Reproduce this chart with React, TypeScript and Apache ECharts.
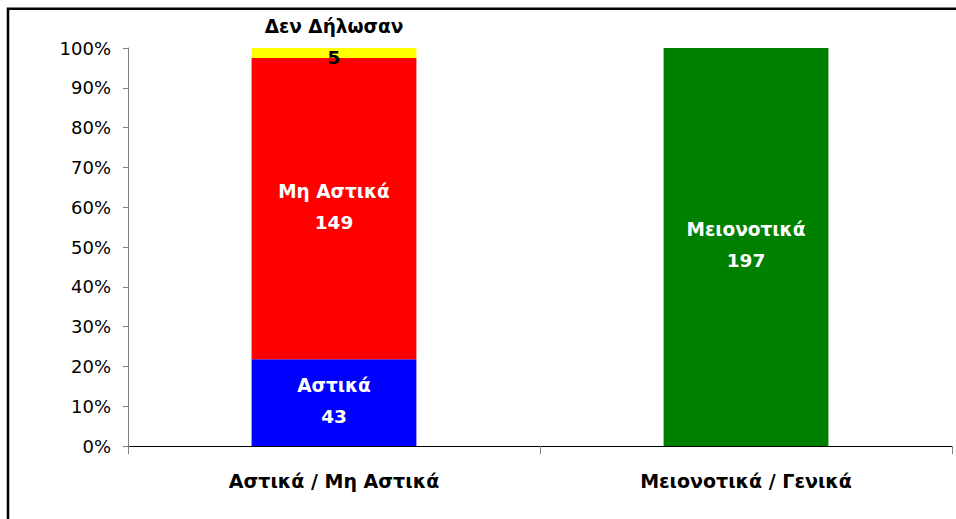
import React, { useEffect, useRef } from "react";
import * as echarts from "echarts";

const categories = ["Αστικά / Μη Αστικά", "Μειονοτικά / Γενικά"];
const yTickLabels = ["0%", "10%", "20%", "30%", "40%", "50%", "60%", "70%", "80%", "90%", "100%"];

const seriesNames = ["Αστικά", "Μη Αστικά", "Δεν Δήλωσαν", "Μειονοτικά"];
const astika = [43, 0];
const miAstika = [149, 0];
const denDilosan = [5, 0];
const meionotika = [0, 197];
const seriesColors = ["#0000FF", "#FF0000", "#FFFF00", "#008000"];
const labelColors = ["#FFFFFF", "#FFFFFF", "#000000", "#FFFFFF"];

const FONT = "'DejaVu Sans', 'Liberation Sans', Arial, sans-serif";

export default function App() {
  const ref = useRef<HTMLDivElement>(null);

  useEffect(() => {
    if (!ref.current) return;
    const chart = echarts.init(ref.current, undefined, { renderer: "svg" });
    const counts = [astika, miAstika, denDilosan, meionotika];
    const totals = categories.map((_, i) => counts.reduce((s, arr) => s + arr[i], 0));

    const series = counts.map((arr, si) => ({
      name: seriesNames[si],
      type: "bar" as const,
      stack: "total",
      barWidth: "40%",
      itemStyle: { color: seriesColors[si] },
      data: arr.map((v, i) => (v === 0 ? null : (v / totals[i]) * 100)),
      label: {
        show: true,
        position: "inside" as const,
        offset: si === 2 ? [0, -11] : [0, -2],
        color: labelColors[si],
        fontFamily: FONT,
        fontWeight: "bold" as const,
        fontSize: 18.5,
        lineHeight: 31,
        formatter: (p: any) => `${seriesNames[si]}\n${arr[p.dataIndex]}`,
      },
    }));

    chart.setOption({
      animation: false,
      backgroundColor: "#FFFFFF",
      grid: { left: 128, top: 48, right: 4, bottom: 73, containLabel: false },
      xAxis: {
        type: "category",
        data: categories,
        boundaryGap: true,
        axisLine: { lineStyle: { color: "#000000", width: 1.2 } },
        axisTick: { show: true, alignWithLabel: false, length: 8, lineStyle: { color: "#808080" } },
        axisLabel: {
          color: "#000000",
          fontFamily: FONT,
          fontWeight: "bold",
          fontSize: 19,
          margin: 25,
        },
      },
      yAxis: {
        type: "value",
        min: 0,
        max: 100,
        interval: 10,
        axisLine: { show: true, lineStyle: { color: "#808080" } },
        axisTick: { show: true, length: 5, lineStyle: { color: "#808080" } },
        splitLine: { show: false },
        axisLabel: {
          color: "#000000",
          fontFamily: FONT,
          fontSize: 18,
          margin: 17,
          formatter: (v: number) => yTickLabels[Math.round(v / 10)],
        },
      },
      series,
      graphic: [
        {
          type: "rect",
          shape: { x: 8, y: 8.7, width: 1000, height: 600 },
          style: { fill: "none", stroke: "#000000", lineWidth: 2.5 },
          silent: true,
          z: 100,
        },
      ],
    });
    return () => chart.dispose();
  }, []);

  return (
    <div
      ref={ref}
      style={{ position: "fixed", left: 0, top: 0, width: 956, height: 519 }}
    />
  );
}
